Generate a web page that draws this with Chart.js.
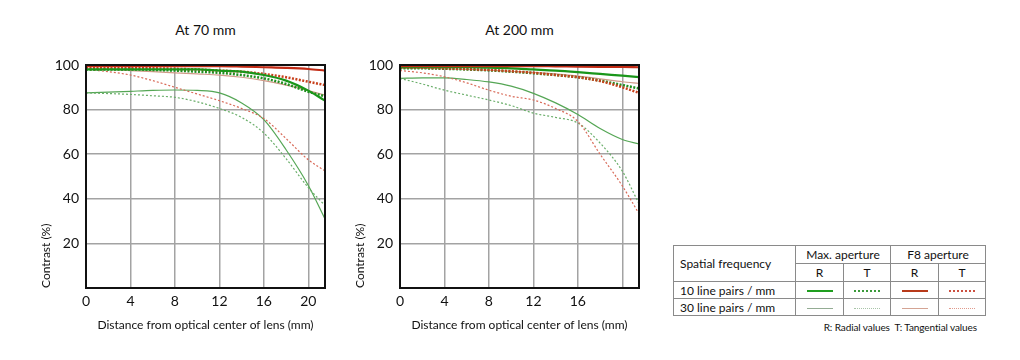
<!DOCTYPE html>
<html>
<head>
<meta charset="utf-8">
<script src="https://cdn.jsdelivr.net/npm/chart.js@4.4.1/dist/chart.umd.min.js"></script>
<style>
  html, body { margin:0; padding:0; background:#fff; }
  body { width:1020px; height:360px; position:relative; overflow:hidden; font-family: Lato, "Open Sans", sans-serif; color:#111; }
  .box { position:absolute; }
  .ttl { position:absolute; font-size:14px; text-align:center; top:21px; }
  table.leg { position:absolute; left:673px; top:245px; border-collapse:collapse; font-size:12px; }
  table.leg td { border:1px solid #8a8a8a; padding:0; height:16px; text-align:center; }
  .smp { display:inline-block; width:26px; vertical-align:middle; }
  .cap { position:absolute; right:43px; top:321px; font-size:10px; letter-spacing:-0.1px; }
</style>
</head>
<body>
<div class="ttl" style="left:86px;width:239px;">At 70 mm</div>
<div class="ttl" style="left:400px;width:239px;">At 200 mm</div>
<div class="box" style="left:36px;top:0;width:294px;height:332px;"><canvas id="c1"></canvas></div>
<div class="box" style="left:350px;top:0;width:294px;height:332px;"><canvas id="c2"></canvas></div>

<table class="leg">
  <tr>
    <td rowspan="2" style="width:115px;text-align:left;padding-left:6px;height:35px;">Spatial frequency</td>
    <td colspan="2" style="width:93px;">Max. aperture</td>
    <td colspan="2" style="width:93px;">F8 aperture</td>
  </tr>
  <tr>
    <td style="width:47px;">R</td><td style="width:46px;">T</td>
    <td style="width:47px;">R</td><td style="width:46px;">T</td>
  </tr>
  <tr>
    <td style="text-align:left;padding-left:6px;">10 line pairs / mm</td>
    <td><span class="smp" style="border-top:2px solid #1f9e1f;"></span></td>
    <td><span class="smp" style="border-top:2px dotted #3a9a3a;"></span></td>
    <td><span class="smp" style="border-top:2px solid #b83a1a;"></span></td>
    <td><span class="smp" style="border-top:2px dotted #cc5040;"></span></td>
  </tr>
  <tr>
    <td style="text-align:left;padding-left:6px;">30 line pairs / mm</td>
    <td><span class="smp" style="border-top:1.5px solid #94ac94;"></span></td>
    <td><span class="smp" style="border-top:1px dotted #a8c4a8;"></span></td>
    <td><span class="smp" style="border-top:1.5px solid #d4a494;"></span></td>
    <td><span class="smp" style="border-top:1px dotted #e09a8c;"></span></td>
  </tr>
</table>
<div class="cap">R: Radial values &nbsp;T: Tangential values</div>

<script>
// ---- data ----
const xPos = [0, 2, 4, 6, 8, 10, 12, 14, 16, 18, 20, 21.5];
const xTicks = [0, 4, 8, 12, 16, 20];
const xLabelsLeft = [0, 4, 8, 12, 16, 20];
const xLabelsRight = [0, 4, 8, 12, 16];
const yLabels = [20, 40, 60, 80, 100];

// At 70 mm
const w_maxR10 = [98, 98, 98, 98, 98, 98, 97.5, 97, 95.5, 93, 88.5, 84];
const w_maxT10 = [98, 98, 98, 97.8, 97.5, 97, 96.5, 95.5, 94, 91.5, 88, 86];
const w_f8R10  = [99.5, 99.5, 99.5, 99.5, 99.5, 99.5, 99.5, 99.3, 99, 98.7, 98.2, 97.5];
const w_f8T10  = [98.5, 98.5, 98.5, 98.5, 98.3, 98, 97.5, 97, 96, 94.5, 92.5, 91];
const w_maxR30 = [87.5, 87.8, 88.2, 88.6, 88.8, 88.6, 87.5, 83, 75.5, 62, 46, 31];
const w_maxT30 = [87.5, 87.2, 86.8, 86.2, 85.5, 83.5, 80.5, 76.5, 69.5, 58, 45, 37];
const w_f8R30  = [98, 98, 97.5, 97, 96.5, 96, 95.5, 94.5, 93, 91, 88.5, 86.5];
const w_f8T30  = [98, 97, 95.5, 93, 90, 87, 84, 80.5, 76, 67, 57.5, 52.5];

// At 200 mm
const t_maxR10 = [99, 99, 99, 99, 98.8, 98.5, 98, 97.5, 96.8, 96, 95.2, 94.6];
const t_maxT10 = [98.5, 98.5, 98.3, 98, 97.6, 97, 96.3, 95.5, 94.5, 93, 91, 89.5];
const t_f8R10  = [99.5, 99.5, 99.5, 99.5, 99.5, 99.5, 99.5, 99.4, 99.3, 99.2, 99.1, 99];
const t_f8T10  = [99, 98.8, 98.5, 98.2, 97.8, 97.2, 96.5, 95.5, 94.5, 92.8, 90, 87.5];
const t_maxR30 = [94, 94.2, 94.2, 93.5, 92.4, 90.5, 87.3, 83, 77.8, 71.5, 66.6, 64.6];
const t_maxT30 = [94, 91.5, 88.7, 86.5, 84.3, 81.8, 78.4, 76.5, 74, 65, 52.4, 37.8];
const t_f8R30  = [98.5, 98.5, 98.3, 98, 97.7, 97.2, 96.7, 96, 95, 93.8, 92.5, 91.7];
const t_f8T30  = [97.5, 96.5, 94.7, 92, 88.7, 86, 84.3, 80.5, 74.7, 60, 45.8, 33.3];

const FONT = 'Lato, "Open Sans", sans-serif';

function pts(arr) { return arr.map((v, i) => ({ x: xPos[i], y: v })); }

function ds(arr, color, width, dash, order) {
  return {
    data: pts(arr), borderColor: color, borderWidth: width, borderDash: dash,
    pointRadius: 0, fill: false, cubicInterpolationMode: 'monotone', order: order
  };
}

const framePlugin = {
  id: 'frame',
  afterDatasetsDraw(chart) {
    const a = chart.chartArea, c = chart.ctx;
    c.save();
    c.strokeStyle = '#111';
    c.lineWidth = 2;
    c.setLineDash([]);
    c.strokeRect(a.left, a.top, a.right - a.left, a.bottom - a.top);
    c.restore();
  }
};

function makeChart(id, s, xLabels) {
  new Chart(document.getElementById(id), {
    type: 'line',
    data: {
      datasets: [
        ds(s[4], '#55a655', 1.2, [], 8),
        ds(s[5], '#6aae6a', 1.2, [2, 2], 7),
        ds(s[6], '#d09a88', 1.2, [], 6),
        ds(s[7], '#d86a58', 1.2, [2, 2], 5),
        ds(s[1], '#1f8f1f', 2.5, [2, 1.5], 4),
        ds(s[3], '#c8401c', 2.5, [2, 1.5], 3),
        ds(s[0], '#1a961a', 2.2, [], 2),
        ds(s[2], '#c22a14', 2.2, [], 1)
      ]
    },
    options: {
      responsive: true, maintainAspectRatio: false, animation: false,
      layout: { padding: { top: 65, right: 5, bottom: 0, left: 0 } },
      plugins: { legend: { display: false }, tooltip: { enabled: false } },
      scales: {
        x: {
          type: 'linear', min: 0, max: 21.5,
          afterBuildTicks(scale) { scale.ticks = xTicks.map(v => ({ value: v })); },
          afterFit(scale) { scale.height = 44; },
          grid: { color: '#a3a3a3', lineWidth: 1.5, drawTicks: false },
          border: { display: false },
          ticks: {
            includeBounds: false, padding: 5, color: '#111',
            font: { family: FONT, size: 14 },
            callback: v => xLabels.includes(v) ? String(v) : ''
          },
          title: {
            display: true, text: 'Distance from optical center of lens (mm)',
            color: '#111', font: { family: FONT, size: 12 }, padding: { top: 8, bottom: 0 }
          }
        },
        y: {
          min: 0, max: 100,
          afterBuildTicks(scale) { scale.ticks = [0].concat(yLabels).map(v => ({ value: v })); },
          afterFit(scale) { scale.width = 50; },
          grid: { color: '#a3a3a3', lineWidth: 1.5, drawTicks: false },
          border: { display: false },
          ticks: {
            padding: 7, color: '#111', font: { family: FONT, size: 14 },
            callback: v => yLabels.includes(v) ? String(v) : ''
          },
          title: {
            display: true, text: 'Contrast (%)', align: 'start',
            color: '#111', font: { family: FONT, size: 12 }, padding: { top: 3, bottom: 0 }
          }
        }
      }
    },
    plugins: [framePlugin]
  });
}

makeChart('c1', [w_maxR10, w_maxT10, w_f8R10, w_f8T10, w_maxR30, w_maxT30, w_f8R30, w_f8T30], xLabelsLeft);
makeChart('c2', [t_maxR10, t_maxT10, t_f8R10, t_f8T10, t_maxR30, t_maxT30, t_f8R30, t_f8T30], xLabelsRight);
</script>
</body>
</html>
